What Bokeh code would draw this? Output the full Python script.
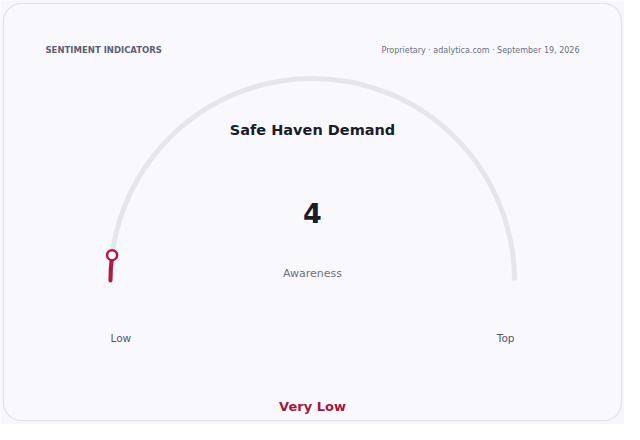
import numpy as np
from bokeh.plotting import figure
from bokeh.models import Range1d
from bokeh.core.properties import value
from bokeh.embed import file_html
from bokeh.resources import INLINE

# ---- data ----
gauge_title = "Safe Haven Demand"
gauge_value = [4]
gauge_min = [0]
gauge_max = [100]
min_label = ["Low"]
max_label = ["Top"]
metric_label = ["Awareness"]
rating_label = ["Very Low"]
header_left = "SENTIMENT INDICATORS"
header_right = "Proprietary · adalytica.com · September 19, 2026"

# ---- styling ----
W, H = 624, 424
FONT = "DejaVu Sans"
RED = "#b5163f"
TRACK = "#e5e5ec"
BG = "#f7f7fb"
CARD = "#f9f9fd"
CARD_LINE = "#e2e2ec"

p = figure(width=W, height=H, output_backend="svg", toolbar_location=None,
           x_range=Range1d(0, W), y_range=Range1d(0, H), min_border=0,
           background_fill_color=BG, border_fill_color=BG)
p.axis.visible = False
p.grid.visible = False
p.outline_line_color = None

# card with rounded corners
def rounded_rect(x0, y0, x1, y1, r, n=16):
    xs, ys = [], []
    corners = [(x1 - r, y1 - r, 0), (x0 + r, y1 - r, 90), (x0 + r, y0 + r, 180), (x1 - r, y0 + r, 270)]
    for cx, cy, a0 in corners:
        t = np.radians(np.linspace(a0, a0 + 90, n))
        xs.extend(cx + r * np.cos(t))
        ys.extend(cy + r * np.sin(t))
    return xs, ys

cx_, cy_ = rounded_rect(3, 4, 621, 421, 18)
p.patch(cx_, cy_, fill_color=CARD, line_color=CARD_LINE, line_width=1.2)

# gauge geometry
gx, gy, gr = 312, 144, 202
frac = (gauge_value[0] - gauge_min[0]) / (gauge_max[0] - gauge_min[0])
ang = np.pi * (1 - frac)

p.arc(x=[gx], y=[gy], radius=gr, start_angle=0, end_angle=np.pi,
      line_color=TRACK, line_width=5)
p.arc(x=[gx], y=[gy], radius=gr, start_angle=ang, end_angle=np.pi,
      line_color=RED, line_width=4, line_cap="round")
p.scatter(x=[gx + gr * np.cos(ang)], y=[gy + gr * np.sin(ang)], size=10,
          marker="circle", fill_color="white", line_color=RED, line_width=2.4)

def txt(x, y, t, size, color, style="normal", align="center", baseline="middle"):
    p.text(x=[x], y=[y], text=[t], text_font=value(FONT), text_font_size=f"{size}px",
           text_color=color, text_font_style=style, text_align=align,
           text_baseline=baseline)

txt(45, 375, header_left, 8.5, "#5c5f73", "bold", "left")
txt(579, 374, header_right, 8, "#6b6e7e", "normal", "right")
txt(gx, 295, gauge_title, 14.5, "#1c1c28", "bold")
txt(gx, 212, str(gauge_value[0]), 27, "#1c1c28", "bold")
txt(gx, 151, metric_label[0], 11, "#6e7080")
txt(gx - gr, 87, min_label[0], 10.5, "#55586a", "normal", "left")
txt(gx + gr, 87, max_label[0], 10.5, "#55586a", "normal", "right")
txt(gx, 18, rating_label[0], 13, "#a5153f", "bold")

open("out.html", "w").write(file_html(p, INLINE))
